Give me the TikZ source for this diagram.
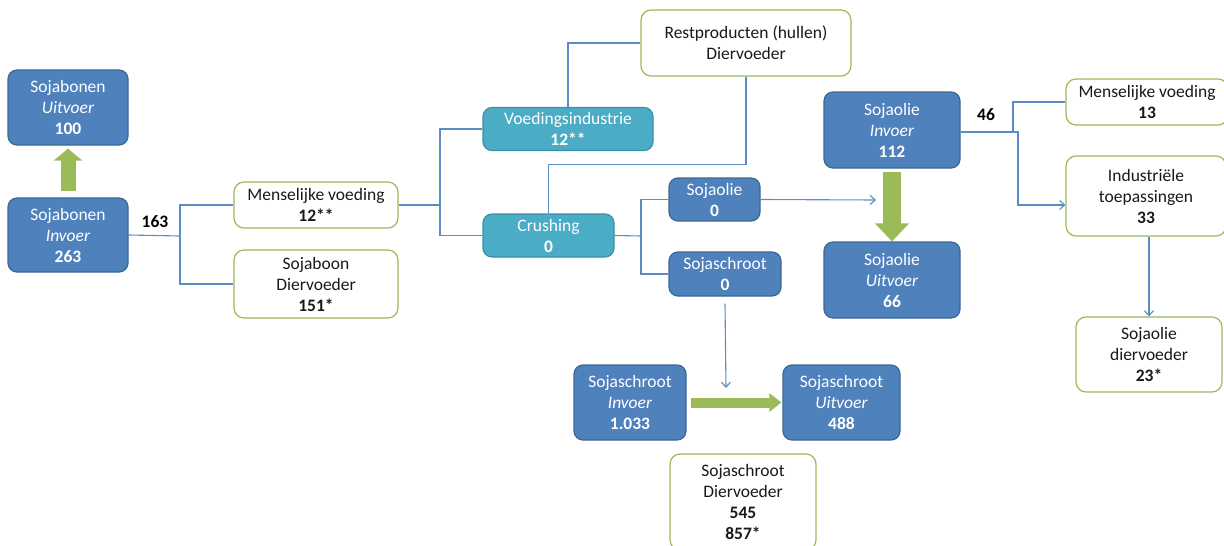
\documentclass[tikz,border=0pt]{standalone}
\usepackage{fontspec}
\setmainfont{Carlito}
\usetikzlibrary{arrows.meta}
\definecolor{boxblue}{HTML}{4F81BD}
\definecolor{boxblueline}{HTML}{3A6794}
\definecolor{boxteal}{HTML}{4BACC6}
\definecolor{boxtealline}{HTML}{3B8FA6}
\definecolor{leafgreen}{HTML}{9BBB59}
\definecolor{flowline}{HTML}{5B8CC8}
\tikzset{every node/.style={font=\fontsize{17.5}{21}\selectfont,align=center,inner sep=0pt},
         bluebox/.style={draw=boxblueline,fill=boxblue,text=white,rounded corners=9pt,line width=1.2pt},
         tealbox/.style={draw=boxtealline,fill=boxteal,text=white,rounded corners=9pt,line width=1.2pt},
         greenbox/.style={draw=leafgreen,fill=white,text=black!90,rounded corners=10pt,line width=1.2pt},
         flow/.style={draw=flowline,line width=1.1pt},
         flowarrow/.style={flow,-{Straight Barb[length=5pt,width=9pt]}},
         bigarrow/.style={draw=leafgreen}}

\begin{document}
\begin{tikzpicture}[x=1pt,y=-1pt]
        \useasboundingbox (0,0) rectangle (1224,546);
        % sojabonen
        \node[bluebox,minimum width=120,minimum height=75](sbu)at(68,107.5){Sojabonen\\\textit{Uitvoer}\\\textbf{100}};
        \node[bluebox,minimum width=120,minimum height=74](sbi)at(68,235){Sojabonen\\\textit{Invoer}\\\textbf{263}};
        \draw[bigarrow,line width=15pt,-{Triangle[width=28pt,length=12pt]}]([yshift=6pt]sbi.north)--([yshift=-3pt]sbu.south);
        \node[font=\fontsize{17.5}{21}\selectfont\bfseries](n163)at(155,222){163};
        \node[greenbox,minimum width=164,minimum height=46](mv12)at(316,205){Menselijke voeding\\\textbf{12**}};
        \node[greenbox,minimum width=164,minimum height=68](sd)at(316,284){Sojaboon\\Diervoeder\\\textbf{151*}};
        \coordinate(j1)at(180,236);
        \draw[flow](sbi.east)--(j1);
        \draw[flow](j1)|-(mv12.west);
        \draw[flow](j1)|-(sd.west);

        % verwerking
        \node[tealbox,minimum width=170,minimum height=43](vi)at(568,129){Voedingsindustrie\\\textbf{12**}};
        \node[tealbox,minimum width=131,minimum height=43](cr)at(548.5,235.5){Crushing\\\textbf{0}};
        \node[greenbox,minimum width=210,minimum height=66](rp)at(746,43){Restproducten (hullen)\\Diervoeder};
        \coordinate(j2)at(440,205);
        \draw[flow](mv12.east)--(j2);
        \draw[flow](j2)|-(vi.west);
        \draw[flow](j2)|-(cr.west);
        \draw[flow](vi.north)|-(rp.west);
        \draw[flow](rp.south)--++(0,88)-|(cr.north);

        \node[bluebox,minimum width=91,minimum height=43](so0)at(714.5,199.5){Sojaolie\\\textbf{0}};
        \node[bluebox,minimum width=112,minimum height=44](ss0)at(725,274){Sojaschroot\\\textbf{0}};
        \coordinate(j3)at(641,236);
        \draw[flow](cr.east)--(j3);
        \draw[flow](j3)|-(so0.west);
        \draw[flow](j3)|-(ss0.west);
        \coordinate(soend)at(876,200);
        \draw[flowarrow](so0.east)--(soend);

        % sojaolie
        \node[bluebox,minimum width=136,minimum height=76](soi)at(892,130){Sojaolie\\\textit{Invoer}\\\textbf{112}};
        \node[bluebox,minimum width=136,minimum height=76](sou)at(892,280){Sojaolie\\\textit{Uitvoer}\\\textbf{66}};
        \draw[bigarrow,line width=18pt,-{Triangle[width=33pt,length=18pt]}]([yshift=-3pt]soi.south)--(sou.north);
        \node[font=\fontsize{17.5}{21}\selectfont\bfseries](n46)at(986,115){46};
        \node[greenbox,minimum width=162,minimum height=46](mv13)at(1147,102){Menselijke voeding\\\textbf{13}};
        \node[greenbox,minimum width=160,minimum height=80](ind)at(1146,196){Industriële\\toepassingen\\\textbf{33}};
        \node[greenbox,minimum width=146,minimum height=75](sd23)at(1149,354.5){Sojaolie\\diervoeder\\\textbf{23*}};
        \draw[flow]([yshift=-2pt]soi.east)-|(1013,102)--(mv13.west);
        \draw[flowarrow]([xshift=8pt,yshift=-2pt]soi.east)-|(1018,205)--([yshift=-9pt]ind.west);
        \draw[flowarrow](sd23.north|-ind.south)--(sd23.north);

        % sojaschroot
        \node[bluebox,minimum width=112,minimum height=75](ssi)at(630,402.5){Sojaschroot\\\textit{Invoer}\\\textbf{1.033}};
        \node[bluebox,minimum width=117,minimum height=75](ssu)at(841.5,402.5){Sojaschroot\\\textit{Uitvoer}\\\textbf{488}};
        \draw[bigarrow,line width=10pt,-{Triangle[width=18pt,length=12pt]}]([xshift=4pt]ssi.east)--([xshift=-1pt]ssu.west);
        \coordinate(ssend)at(726,388);
        \draw[flowarrow]([yshift=-7pt]ss0.south)--(ssend);
        \node[greenbox,minimum width=146,minimum height=96](ssd)at(743,502){Sojaschroot\\Diervoeder\\\textbf{545}\\\textbf{857*}};
    \end{tikzpicture}
\end{document}
